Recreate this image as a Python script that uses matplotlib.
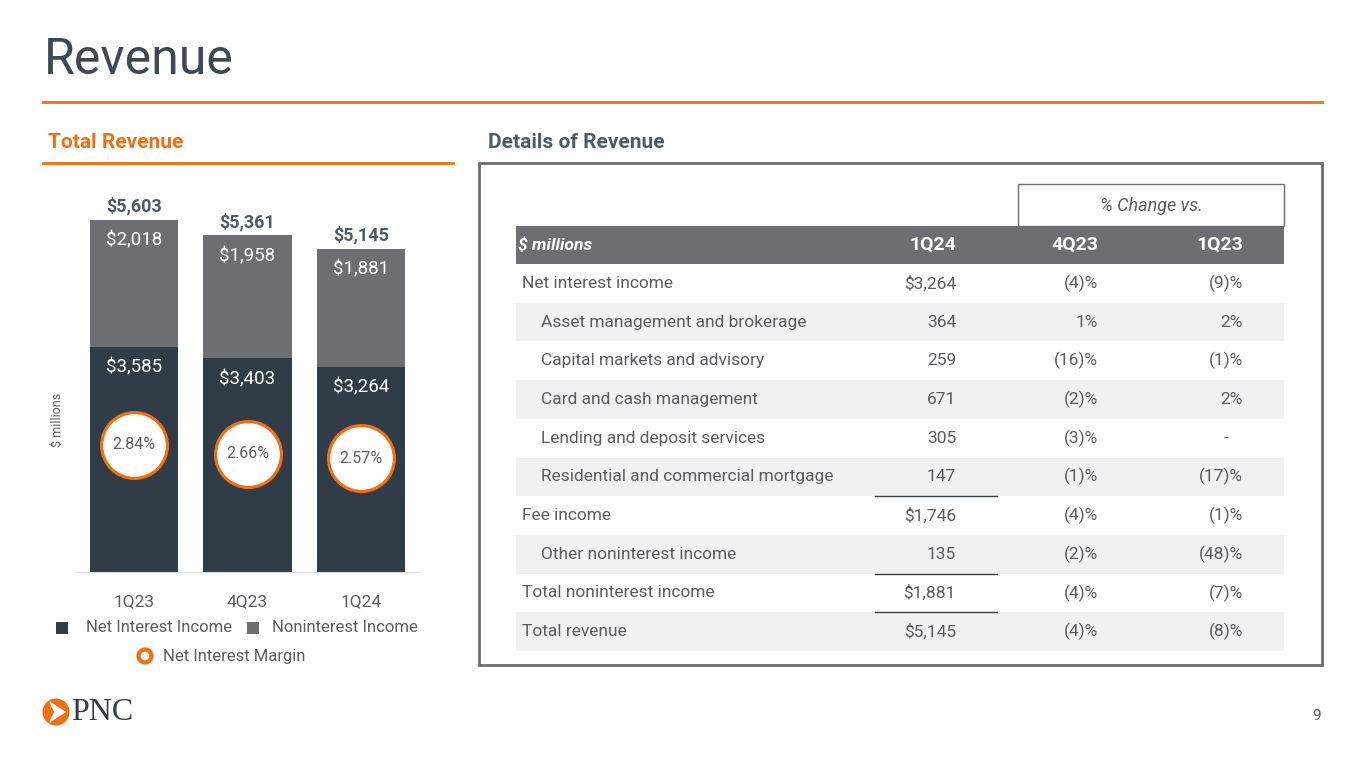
import matplotlib
matplotlib.use("Agg")
import matplotlib.pyplot as plt
from matplotlib.patches import Rectangle, Circle, Polygon

plt.rcParams["font.family"] = ["Roboto", "DejaVu Sans"]

# bar chart data
quarters = ["1Q23", "4Q23", "1Q24"]
net_interest = [3585, 3403, 3264]
noninterest = [2018, 1958, 1881]
totals = [5603, 5361, 5145]
nim = [2.84, 2.66, 2.57]

# table data
row_labels = [
    "Net interest income",
    "Asset management and brokerage",
    "Capital markets and advisory",
    "Card and cash management",
    "Lending and deposit services",
    "Residential and commercial mortgage",
    "Fee income",
    "Other noninterest income",
    "Total noninterest income",
    "Total revenue",
]
row_indent = [0, 1, 1, 1, 1, 1, 0, 1, 0, 0]
val_1q24 = ["$3,264", "364", "259", "671", "305", "147", "$1,746", "135", "$1,881", "$5,145"]
chg_4q23 = ["(4)%", "1%", "(16)%", "(2)%", "(3)%", "(1)%", "(4)%", "(2)%", "(4)%", "(4)%"]
chg_1q23 = ["(9)%", "2%", "(1)%", "2%", "-", "(17)%", "(1)%", "(48)%", "(7)%", "(8)%"]
underlined_rows = [5, 7, 8]

ORANGE = "#ef7014"
DARK = "#303c47"
GRAY = "#6d6e72"
TEXT = "#5b5c60"
TITLE = "#3e4953"

W, H = 1365, 768
fig = plt.figure(figsize=(W / 100, H / 100), dpi=100)

# overlay in pixel coordinates (y down)
ov = fig.add_axes([0, 0, 1, 1])
ov.set_xlim(0, W)
ov.set_ylim(H, 0)
ov.axis("off")

ov.text(44, 60, "Revenue", fontsize=36, color=TITLE, va="center", ha="left")
ov.plot([43, 1322], [102, 102], color=ORANGE, lw=2)
ov.text(48, 143, "Total Revenue", fontsize=15, color=ORANGE, weight="bold", va="center")
ov.plot([43, 453], [163, 163], color=ORANGE, lw=2)
ov.text(488, 143, "Details of Revenue", fontsize=15, color="#4f5a64", weight="bold", va="center")

# table frame
ov.add_patch(Rectangle((479, 163), 843, 502, fill=False, ec=GRAY, lw=2))
ov.add_patch(Rectangle((1018, 184), 266, 42, fill=False, ec=GRAY, lw=1))
ov.text(1151, 206, "% Change vs.", fontsize=13, style="italic", color=TEXT, ha="center", va="center")
ov.add_patch(Rectangle((516, 226), 768, 38, color=GRAY, lw=0))
ov.text(518, 245, "$ millions", fontsize=12.5, style="italic", weight="bold", color="white", va="center")
for x, h in zip([956, 1098, 1243], ["1Q24", "4Q23", "1Q23"]):
    ov.text(x, 245, h, fontsize=14, weight="bold", color="white", va="center", ha="right")

row_h = 38.7
for i, lab in enumerate(row_labels):
    y0 = 264 + row_h * i
    yc = y0 + row_h / 2
    if i % 2 == 1:
        ov.add_patch(Rectangle((516, y0), 768, row_h, color="#f1f1f2", lw=0))
    ov.text(541 if row_indent[i] else 522, yc, lab, fontsize=12.5, color=TEXT, va="center")
    ov.text(956, yc, val_1q24[i], fontsize=12.5, color=TEXT, va="center", ha="right")
    ov.text(1098, yc, chg_4q23[i], fontsize=12.5, color=TEXT, va="center", ha="right")
    off = 14 if chg_1q23[i] == "-" else 0
    ov.text(1243 - off, yc, chg_1q23[i], fontsize=12.5, color=TEXT, va="center", ha="right")
    if i in underlined_rows:
        ov.plot([875, 997], [y0 + row_h, y0 + row_h], color="#3a3f45", lw=1)

# legend
ov.add_patch(Rectangle((56, 622), 12, 12, color=DARK, lw=0))
ov.text(86, 628, "Net Interest Income", fontsize=12, color=TEXT, va="center")
ov.add_patch(Rectangle((247, 622), 12, 12, color=GRAY, lw=0))
ov.text(272, 628, "Noninterest Income", fontsize=12, color=TEXT, va="center")
ov.add_patch(Circle((145, 656), 6.5, fill=False, ec=ORANGE, lw=3))
ov.text(163, 656, "Net Interest Margin", fontsize=12, color=TEXT, va="center")
ov.text(57, 420, "$ millions", fontsize=9, color=TEXT, rotation=90, va="center", ha="center")

# logo and page number
ov.add_patch(Circle((56, 712), 13.5, color=ORANGE, lw=0))
ov.add_patch(Polygon([(49, 701), (66, 712), (49, 723), (54, 712)], closed=True, color="white", lw=0))
ov.text(71, 713, "PNC", fontsize=23, family="Liberation Serif", color="#2f3b46", va="center")
ov.text(1317, 716, "9", fontsize=11, color=TEXT, ha="center", va="center")

# bar chart
ax = fig.add_axes([77 / W, 196 / H, 341 / W, 377 / H])
ax.patch.set_alpha(0)
x = range(len(quarters))
ax.bar(x, net_interest, width=0.775, color=DARK, zorder=2)
ax.bar(x, noninterest, bottom=net_interest, width=0.775, color=GRAY, zorder=2)
ax.set_xlim(-0.5, 2.5)
ax.set_ylim(0, 6000)
for i in x:
    ax.annotate(f"${totals[i]:,}", (i, totals[i]), xytext=(0, 3), textcoords="offset points",
                ha="center", va="bottom", fontsize=13, weight="bold", color="#4f5a64")
    ax.annotate(f"${noninterest[i]:,}", (i, totals[i]), xytext=(0, -15), textcoords="offset points",
                ha="center", va="center", fontsize=13.5, color="white")
    ax.annotate(f"${net_interest[i]:,}", (i, net_interest[i]), xytext=(0, -15), textcoords="offset points",
                ha="center", va="center", fontsize=13.5, color="white")
for s in ["top", "right", "left"]:
    ax.spines[s].set_visible(False)
ax.spines["bottom"].set_color("#dcdcdc")
ax.set_yticks([])
ax.set_xticks(list(x))
ax.set_xticklabels(quarters, fontsize=12.5, color=TEXT)
ax.tick_params(axis="x", length=0, pad=16)

ax2 = ax.twinx()
ax2.set_ylim(0.24, 7.95)
ax2.axis("off")
ax2.scatter(list(x), nim, s=2250, facecolor="white", edgecolor=ORANGE, linewidth=2.3, zorder=3)
for i in x:
    ax2.text(i, nim[i], f"{nim[i]:.2f}%", ha="center", va="center", fontsize=11.5, color=TEXT, zorder=4)

fig.savefig("out.png", dpi=100)
